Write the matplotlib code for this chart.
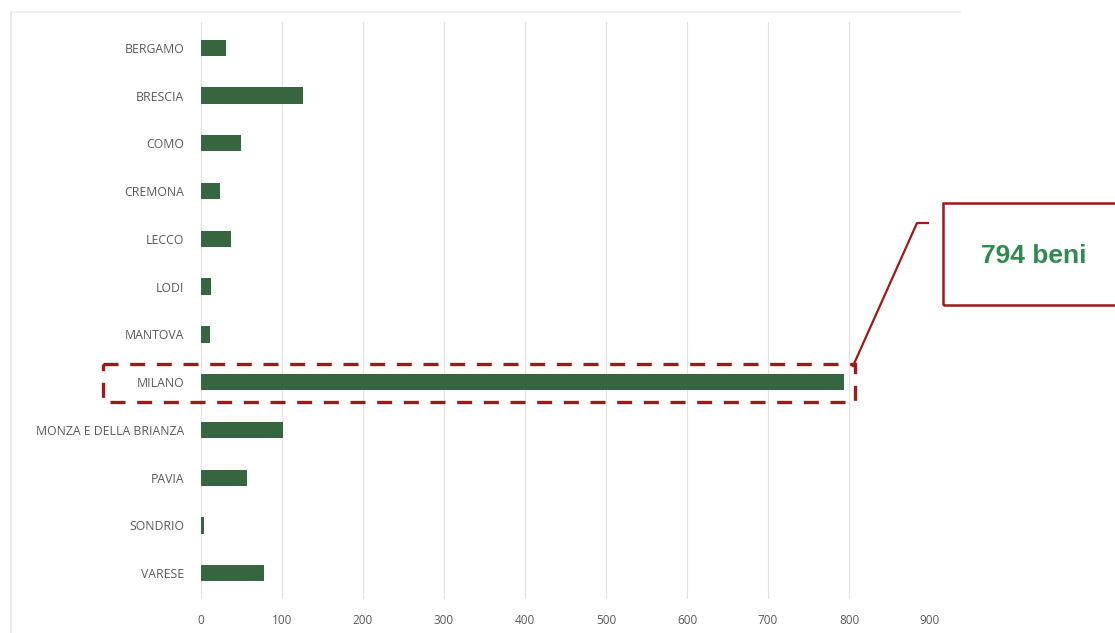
import numpy as np
import matplotlib.pyplot as plt
from matplotlib.patches import Rectangle
from matplotlib.lines import Line2D

province = ["BERGAMO", "BRESCIA", "COMO", "CREMONA", "LECCO", "LODI", "MANTOVA",
            "MILANO", "MONZA E DELLA BRIANZA", "PAVIA", "SONDRIO", "VARESE"]
beni = [31, 126, 49, 23, 37, 12, 11, 794, 101, 57, 4, 78]
xticks = [0, 100, 200, 300, 400, 500, 600, 700, 800, 900]

W, H = 1115, 633
fig = plt.figure(figsize=(W / 100, H / 100), dpi=100)
ax = fig.add_axes([201 / W, 1 - 599 / H, (930 - 201) / W, (599 - 22) / H])

y = np.arange(len(province))
ax.barh(y, beni, height=0.34, color="#35663F", zorder=3)
ax.set_ylim(len(province) - 0.46, -0.54)
ax.set_xlim(0, 900)
ax.set_yticks(y)
ax.set_yticklabels(province, fontsize=8.8, color="#595959", family="Open Sans")
ax.set_xticks(xticks)
ax.set_xticklabels([str(v) for v in xticks], fontsize=8.5, color="#595959", family="Open Sans")
ax.tick_params(length=0, pad=12)
ax.tick_params(axis="x", pad=11)
ax.grid(axis="x", color="#E2E2E2", linewidth=0.8, zorder=0)
for s in ax.spines.values():
    s.set_visible(False)

# faint chart frame
fig.add_artist(Line2D([11 / W, 11 / W], [1 - 12 / H, 0], color="#E3E3E3", lw=1.2))
fig.add_artist(Line2D([11 / W, 960 / W], [1 - 12 / H, 1 - 12 / H], color="#EEEEEE", lw=1.2))

red = "#A01818"
# dashed box round MILANO
i = province.index("MILANO")
ax.add_patch(Rectangle((-121, i - 0.38), 928, 0.8, fill=False, edgecolor=red,
                       lw=2.4, linestyle=(0, (4.5, 3.5)), clip_on=False, zorder=4))

# callout
fig.add_artist(Line2D([853 / W, 917 / W, 928 / W],
                      [1 - 366 / H, 1 - 223 / H, 1 - 223 / H], color=red, lw=1.6))
fig.add_artist(Rectangle((943 / W, 1 - 305 / H), 200 / W, 102 / H, fill=False,
                         edgecolor=red, lw=1.8, transform=fig.transFigure))
fig.text(1034 / W, 1 - 256 / H, f"{beni[i]} beni", color="#2E8B4E", fontsize=19,
         fontweight="bold", family="Liberation Sans", ha="center", va="center")

fig.savefig("out.png", dpi=100)
